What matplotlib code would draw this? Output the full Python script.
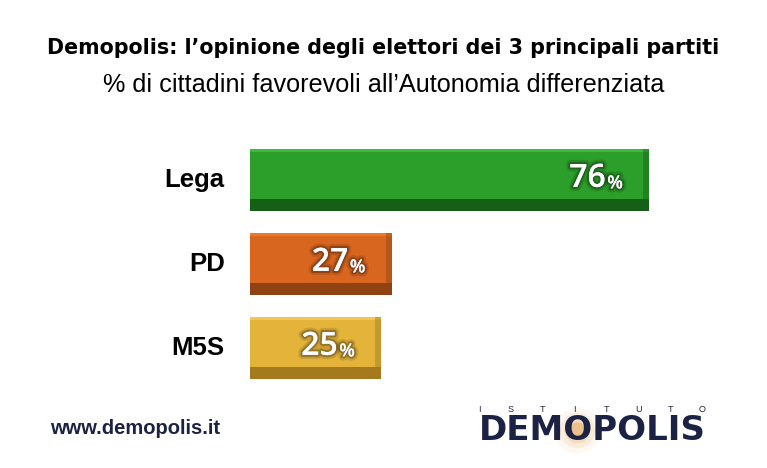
import matplotlib
matplotlib.use('Agg')

import numpy as np
import matplotlib.pyplot as plt
import matplotlib.patheffects as pe

# Data
parties = ['Lega', 'PD', 'M5S']
favorevoli = [76, 27, 25]

TITLE = "Demopolis: l\u2019opinione degli elettori dei 3 principali partiti"
SUBTITLE = "% di cittadini favorevoli all\u2019Autonomia differenziata"

# Styles
FACE_COLORS = ['#2c9e2a', '#d9661f', '#e4b33a']
EDGE_COLORS = ['#165f16', '#8f4312', '#a57a1c']
TOP_COLORS = ['#3fb83b', '#e67a30', '#efc658']
NAVY = '#1c2244'
FONT = 'Liberation Sans'

BAR_H = 0.74


def main():
    fig = plt.figure(figsize=(7.67, 4.68), dpi=100)
    fig.patch.set_facecolor('white')

    # axes: x=0 at pixel 250, 1 category = 84 px
    ax = fig.add_axes([250 / 767, 1 - 390 / 468, 515 / 767, 252 / 468])
    ax.set_xlim(0, 98)
    ax.set_ylim(len(parties) - 0.5, -0.5)
    ax.axis('off')

    ypos = list(range(len(parties)))

    # main face
    ax.barh(ypos, favorevoli, height=BAR_H, color=FACE_COLORS, zorder=2)
    # lighter top edge
    ax.barh([y - BAR_H / 2 + 0.02 for y in ypos], favorevoli, height=0.04,
            color=TOP_COLORS, zorder=3)
    # dark bottom bevel
    ax.barh([y + BAR_H / 2 - 0.07 for y in ypos], favorevoli, height=0.14,
            color=EDGE_COLORS, zorder=3)
    # right side cap
    ax.barh(ypos, [1.2] * len(parties), left=[v - 1.2 for v in favorevoli],
            height=BAR_H, color=EDGE_COLORS, alpha=0.45, zorder=4)

    shadow = [pe.withStroke(linewidth=6, foreground=(0, 0, 0, 0.12)),
              pe.withStroke(linewidth=3, foreground=(0, 0, 0, 0.25))]
    for y, v in zip(ypos, favorevoli):
        ax.text(v - 8.3, y - 0.02, str(v), ha='right', va='center',
                fontsize=23, color='white', family='Open Sans',
                fontweight='semibold', zorder=6, path_effects=shadow)
        ax.text(v - 8.0, y + 0.04, '%', ha='left', va='center',
                fontsize=13, color='white', family='Open Sans',
                fontweight='semibold', zorder=6, path_effects=shadow)

    for y, name in zip(ypos, parties):
        ax.text(-4.8, y, name, ha='right', va='center', fontsize=18.5,
                fontweight='bold', family=FONT, color='black')

    # titles
    fig.text(0.5, 1 - 48 / 468, TITLE, ha='center', va='center',
             fontsize=14.9, fontweight='bold', family='DejaVu Sans',
             color='black')
    fig.text(0.5, 1 - 85 / 468, SUBTITLE, ha='center', va='center',
             fontsize=18.2, family=FONT, color='black')

    # footer
    fig.text(50 / 767, 1 - 428 / 468, 'www.demopolis.it', ha='left',
             va='center', fontsize=14.5, fontweight='bold', family=FONT,
             color=NAVY)

    # logo
    for ch, xp in zip('ISTITUTO', np.linspace(479, 702, 8)):
        fig.text(xp / 767, 1 - 410 / 468, ch, ha='center', va='center',
                 fontsize=6.5, family=FONT, color=NAVY)
    glow = fig.add_axes([0, 0, 1, 1], zorder=-1)
    glow.set_xlim(0, 767)
    glow.set_ylim(468, 0)
    glow.axis('off')
    for r, a in [(1100, 0.06), (650, 0.10), (350, 0.16), (140, 0.35)]:
        glow.scatter([577], [430], s=r, color='#e08a2a', alpha=a,
                     linewidths=0)
    fig.text(592 / 767, 1 - 431 / 468, 'DEMOPOLIS', ha='center', va='center',
             fontsize=24.5, fontweight='bold', family='DejaVu Sans',
             color=NAVY)

    fig.savefig('out.png', dpi=100, facecolor='white')
    plt.close(fig)


if __name__ == '__main__':
    main()
